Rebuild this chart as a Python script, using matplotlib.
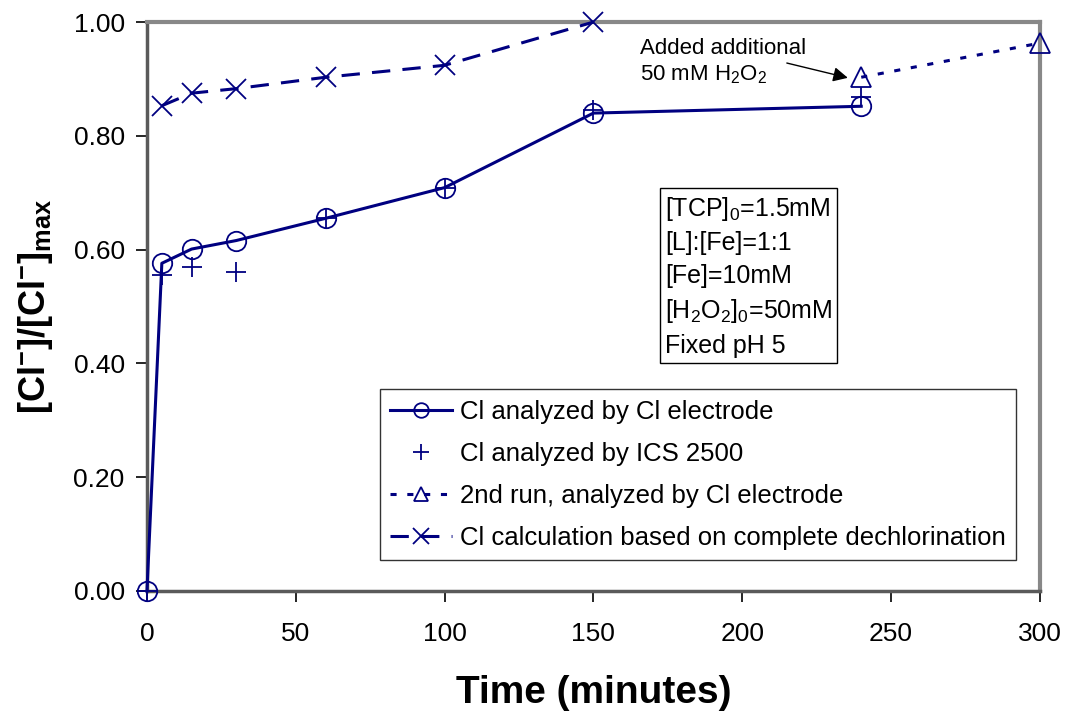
import matplotlib
matplotlib.use("Agg")
import matplotlib.pyplot as plt

plt.rcParams['font.family'] = ['Liberation Sans', 'DejaVu Sans']
plt.rcParams['mathtext.fontset'] = 'custom'
plt.rcParams['mathtext.rm'] = 'Liberation Sans'
plt.rcParams['mathtext.it'] = 'Liberation Sans'
plt.rcParams['mathtext.bf'] = 'Liberation Sans:bold'

# データ
t_electrode = [0, 5, 15, 30, 60, 100, 150, 240]
cl_electrode = [0.0, 0.576, 0.601, 0.616, 0.655, 0.709, 0.840, 0.852]

t_ics = [0, 5, 15, 30, 60, 100, 150, 240]
cl_ics = [0.0, 0.556, 0.569, 0.561, 0.655, 0.709, 0.846, 0.868]

t_run2 = [240, 300]
cl_run2 = [0.903, 0.963]

t_calc = [5, 15, 30, 60, 100, 150]
cl_calc = [0.853, 0.875, 0.883, 0.903, 0.924, 1.0]

x_ticks = [0, 50, 100, 150, 200, 250, 300]
y_ticks = [0, 0.2, 0.4, 0.6, 0.8, 1.0]

navy = '#000080'

fig = plt.figure(figsize=(10.68, 7.12), dpi=100)
ax = fig.add_axes([0.1376, 0.17, 0.836, 0.799])

ax.plot(t_electrode, cl_electrode, color=navy, lw=2.2, marker='o', ms=14, mfc='none',
        mec=navy, mew=1.3, label='Cl analyzed by Cl electrode', zorder=3, clip_on=False)
ax.plot(t_ics, cl_ics, ls='none', marker='+', ms=15, mec=navy, mew=1.3,
        label='Cl analyzed by ICS 2500', zorder=4, clip_on=False)
ax.plot(t_run2, cl_run2, color=navy, lw=2.2, ls=(0, (2, 3.5)), marker='^', ms=14, mfc='none',
        mec=navy, mew=1.3, label='2nd run, analyzed by Cl electrode', zorder=3, clip_on=False)
ax.plot(t_calc, cl_calc, color=navy, lw=2.2, ls=(0, (6, 4)), marker='x', ms=15,
        mec=navy, mew=1.3, label='Cl calculation based on complete dechlorination',
        zorder=3, clip_on=False)

ax.set_xlim(0, 300)
ax.set_ylim(0, 1.0)
ax.set_xticks(x_ticks)
ax.set_yticks(y_ticks)
ax.set_yticklabels(['%.2f' % v for v in y_ticks])
ax.tick_params(labelsize=19, length=8, width=1.2, direction='out', colors='black')
ax.tick_params(axis='y', pad=8)
ax.tick_params(axis='x', pad=14)

for side in ['top', 'right']:
    ax.spines[side].set_color('#888888')
    ax.spines[side].set_linewidth(3)
for side in ['left', 'bottom']:
    ax.spines[side].set_color('#5a5a5a')
    ax.spines[side].set_linewidth(2.5)

ax.set_xlabel('Time (minutes)', fontsize=28, fontweight='bold', labelpad=21)
ax.set_ylabel(r'$\mathbf{[Cl^{-}]/[Cl^{-}]_{max}}$', fontsize=26, labelpad=13)

# 注釈
ax.text(165.5, 0.930, 'Added additional\n50 mM H$_2$O$_2$', fontsize=16,
        ha='left', va='center', linespacing=1.25)
ax.annotate('', xy=(235.5, 0.902), xytext=(215, 0.928),
            arrowprops=dict(arrowstyle='-|>', color='black', lw=1, mutation_scale=22,
                            shrinkA=0, shrinkB=0))

ax.text(174, 0.553,
        '[TCP]$_0$=1.5mM\n[L]:[Fe]=1:1\n[Fe]=10mM\n[H$_2$O$_2$]$_0$=50mM\nFixed pH 5',
        fontsize=18, ha='left', va='center', linespacing=1.45,
        bbox=dict(boxstyle='square,pad=0.2', fc='white', ec='black', lw=1))

leg = ax.legend(loc='lower right', bbox_to_anchor=(0.973, 0.0545), borderaxespad=0,
                fontsize=18.5, frameon=True, fancybox=False, edgecolor='black',
                handlelength=2.4, borderpad=0.4, labelspacing=0.7, handletextpad=0.3,
                markerscale=0.75)
leg.get_frame().set_linewidth(1)

fig.savefig('out.png', dpi=100)
